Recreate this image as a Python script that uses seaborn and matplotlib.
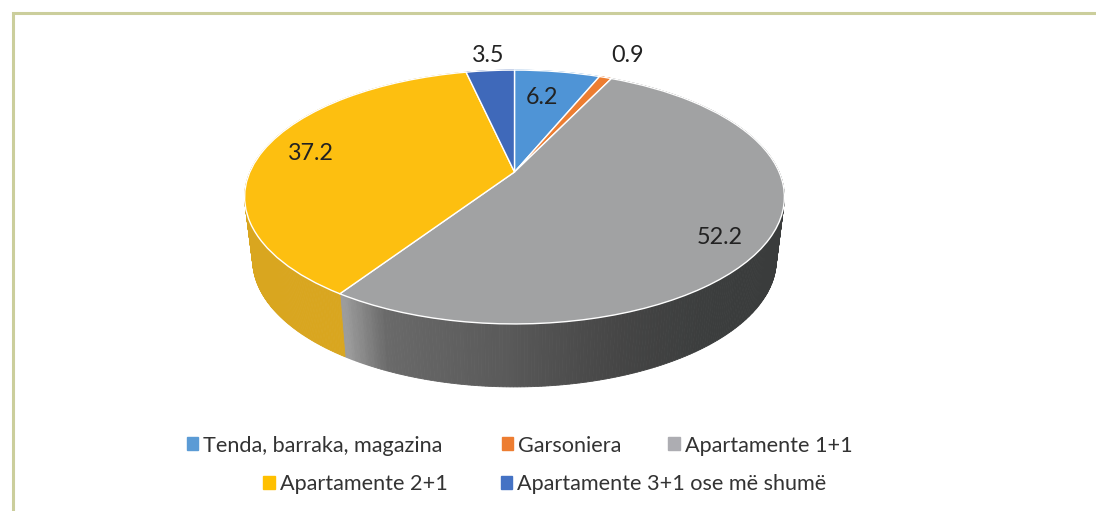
import numpy as np
import seaborn as sns
import matplotlib.pyplot as plt
from matplotlib.patches import Patch
from matplotlib.transforms import Transform

categories = ['Tenda, barraka, magazina', 'Garsoniera', 'Apartamente 1+1',
              'Apartamente 2+1', 'Apartamente 3+1 ose më shumë']
values = [6.2, 0.9, 52.2, 37.2, 3.5]
colors = ['#4f94d6', '#ed7d31', '#a1a2a3', '#fdbf10', '#3f69ba']
legend_colors = ['#5b9bd5', '#ed7d31', '#adadb2', '#ffc000', '#4472c4']
yellow_side = '#d9a61f'
grey_side = ['#9c9c9c', '#6a6a6a', '#646464', '#5f5f5f', '#5a5a5a', '#525252',
             '#4b4b4b', '#454545', '#404141', '#3c3e3e', '#3a3c3c', '#3a3c3c']


# Perspective of the pie disc onto the page, gives the tilted 3D look
class Tilt(Transform):
    input_dims = 2
    output_dims = 2
    k = 0.197

    def transform_non_affine(self, xy):
        xy = np.asarray(xy, dtype=float)
        w = -xy[:, 1]
        d = 1 - self.k * w
        return np.column_stack([514.5 + 264.6 * xy[:, 0] / d, 172 + 122 * w / d])


def lower_rim(pts):
    return np.column_stack([514.5 + (pts[:, 0] - 514.5) * 0.97, pts[:, 1] + 63])


sns.set_theme(style='white')
plt.rcParams['font.family'] = ['Lato', 'DejaVu Sans']
palette = sns.color_palette(colors)
grad = sns.blend_palette(grey_side, 256)

fig = plt.figure(figsize=(10.96, 5.11), dpi=100)
ax = fig.add_axes([0, 0, 1, 1])
tilt = Tilt()

wedges, _ = ax.pie(values, colors=palette, startangle=90, counterclock=False,
                   wedgeprops={'edgecolor': 'white', 'linewidth': 1.0})
ax.set_aspect('auto')
ax.set_xlim(0, 1096)
ax.set_ylim(511, 0)
ax.axis('off')

# Side wall, one thin strip per step along the rim
for i, wedge in enumerate(wedges):
    th = np.radians(np.linspace(wedge.theta1, wedge.theta2, 300))
    top = tilt.transform_non_affine(np.column_stack([np.cos(th), np.sin(th)]))
    low = lower_rim(top)
    for j in range(len(th) - 1):
        if i == 2:
            frac = np.clip((top[j, 0] - 342) / (784 - 342), 0, 1)
            c = grad[int(frac * 255)]
        elif i == 3:
            c = yellow_side
        else:
            c = palette[i]
        ax.fill([top[j, 0], top[j + 1, 0], low[j + 1, 0], low[j, 0]],
                [top[j, 1], top[j + 1, 1], low[j + 1, 1], low[j, 1]],
                color=c, lw=0.6, zorder=1)

# Seam between yellow and grey on the front wall
seam = np.radians(wedges[2].theta2)
p = tilt.transform_non_affine(np.array([[np.cos(seam), np.sin(seam)]]))
q = lower_rim(p)
ax.plot([p[0, 0], q[0, 0]], [p[0, 1], q[0, 1]], color='#f4ead0', lw=1, zorder=2)

for wedge in wedges:
    wedge.set_transform(tilt + ax.transData)
    wedge.set_clip_on(False)
    wedge.set_zorder(3)

# Data labels
label_pos = [(541.5, 98), (628, 56), (720, 238), (311, 153), (488, 55)]
for v, (x, y) in zip(values, label_pos):
    ax.text(x, y, f'{v}', ha='center', va='center', fontsize=16.8, color='#222222', zorder=5)

# Legend, two centred rows with uneven gaps so one legend per entry
legend_pos = [(186.5, 445.5), (501.5, 445.5), (668, 445.5), (263, 484.5), (500.5, 484.5)]
for name, c, (x, y) in zip(categories, legend_colors, legend_pos):
    leg = ax.legend(handles=[Patch(color=c, label=name)], loc='center left',
                    bbox_to_anchor=(x, y), bbox_transform=ax.transData,
                    frameon=False, fontsize=15.6, borderpad=0, borderaxespad=0,
                    handlelength=0.55, handleheight=0.55, handletextpad=0.23,
                    labelcolor='#333333')
    ax.add_artist(leg)
    ax.legend_ = None

# Frame of the page box
ax.plot([13, 13, 1096], [511, 13.5, 13.5], color='#cbce9c', lw=2.2, zorder=0,
        solid_joinstyle='miter')

fig.savefig('out.png', dpi=100)
